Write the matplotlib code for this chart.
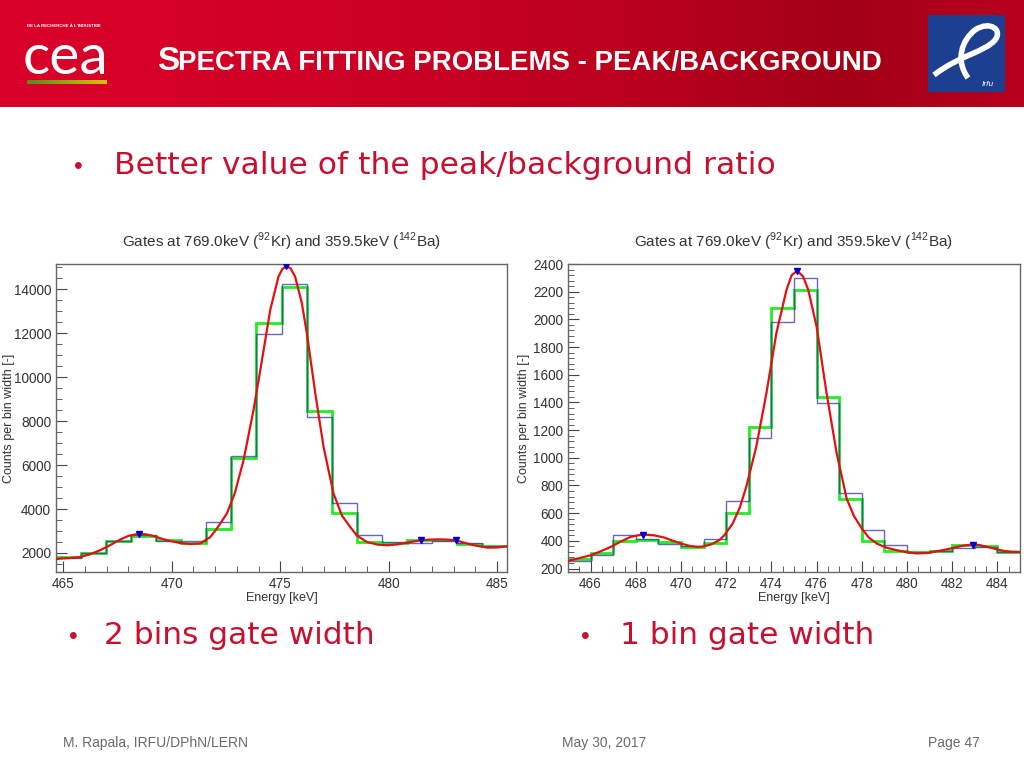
import numpy as np
import matplotlib
matplotlib.use('Agg')
import matplotlib.pyplot as plt
from matplotlib.ticker import MultipleLocator
from matplotlib.patches import Rectangle, PathPatch
from matplotlib.path import Path

plt.rcParams['font.family'] = ['Liberation Sans', 'DejaVu Sans']
plt.rcParams['mathtext.fontset'] = 'custom'
plt.rcParams['mathtext.rm'] = 'Liberation Sans'

# ---- data: 2 bins gate (left) ----
left_lo, left_width, left_nbins = 464.66, 1.1556, 18
left_green = [1800, 1990, 2530, 2780, 2570, 2450, 3100, 6330, 12480, 14110,
              8450, 3820, 2500, 2450, 2580, 2600, 2420, 2300]
left_blue = [1750, 1980, 2530, 2800, 2560, 2560, 3420, 6420, 11950, 14230,
             8200, 4280, 2830, 2500, 2470, 2560, 2460, 2300]
left_fit_x = [464.66, 464.85, 465.3, 465.77, 466.2, 466.69, 467.2, 467.62, 468.0, 468.46,
              468.8, 469.15, 469.5, 469.92, 470.4, 470.85, 471.31, 471.77, 472.08, 472.54,
              472.9, 473.31, 473.77, 474.16, 474.54, 474.92, 475.1, 475.28, 475.48, 475.69,
              476.0, 476.23, 476.62, 477.0, 477.46, 477.85, 478.23, 478.54, 479.0, 479.5,
              479.92, 480.4, 480.85, 481.5, 481.92, 482.3, 482.69, 483.1, 483.46, 484.0,
              484.54, 485.0, 485.46]
left_fit_y = [1720, 1745, 1770, 1818, 1930, 2123, 2380, 2610, 2780, 2870,
              2850, 2775, 2660, 2547, 2450, 2410, 2430, 2720, 3111, 3795,
              4700, 6222, 8500, 10778, 13055, 14572, 14920, 15059, 14950, 14572,
              13360, 11993, 9261, 6828, 4706, 3700, 3184, 2790, 2501, 2380,
              2351, 2390, 2474, 2580, 2610, 2620, 2610, 2580, 2474, 2340,
              2246, 2250, 2305]
left_marks_x = [468.5, 475.25, 481.5, 483.1]
left_marks_y = [2850, 15050, 2600, 2590]

# ---- data: 1 bin gate (right) ----
right_lo, right_width, right_nbins = 465.0, 1.0, 20
right_green = [270, 315, 398, 405, 393, 352, 385, 600, 1225, 2080,
               2210, 1440, 700, 400, 325, 320, 330, 368, 360, 318]
right_blue = [258, 300, 440, 415, 380, 360, 412, 688, 1140, 1980,
              2300, 1395, 748, 478, 372, 318, 325, 345, 355, 318]
right_fit_x = [465.0, 465.5, 466.0, 466.45, 466.89, 467.3, 467.78, 468.3, 468.8, 469.26,
               469.6, 470.0, 470.37, 470.74, 471.0, 471.33, 471.7, 471.92, 472.29, 472.6,
               472.89, 473.33, 473.78, 474.22, 474.67, 474.9, 475.14, 475.4, 475.63, 476.0,
               476.44, 476.89, 477.33, 477.65, 478.0, 478.3, 478.67, 479.1, 479.56, 480.0,
               480.44, 480.9, 481.33, 481.8, 482.22, 482.55, 482.89, 483.2, 483.56, 484.0,
               484.29, 484.6, 485.0]
right_fit_y = [255, 275, 296, 325, 356, 392, 429, 446, 440, 424,
               403, 381, 364, 356, 360, 374, 405, 441, 526, 640,
               791, 1080, 1467, 1901, 2214, 2320, 2351, 2310, 2214, 1948,
               1467, 1032, 705, 580, 490, 425, 380, 350, 332, 318,
               309, 312, 325, 340, 356, 367, 374, 370, 356, 338,
               327, 322, 320]
right_marks_x = [468.3, 475.15, 482.9]
right_marks_y = [442, 2348, 372]

title_txt = r'Gates at 769.0keV ($^{92}$Kr) and 359.5keV ($^{142}$Ba)'

fig = plt.figure(figsize=(10.24, 7.68), dpi=100)

# background axes in pixel coordinates
bg = fig.add_axes([0, 0, 1, 1])
bg.set_xlim(0, 1024)
bg.set_ylim(768, 0)
bg.axis('off')

# header gradient
stops_x = [0, 300, 600, 850, 1024]
stops_c = [(0.85, 0.0, 0.16), (0.82, 0.0, 0.15), (0.74, 0.0, 0.12), (0.64, 0.0, 0.09), (0.72, 0.0, 0.12)]
xs = np.arange(1024)
grad = np.zeros((1, 1024, 3))
for k in range(3):
    grad[0, :, k] = np.interp(xs, stops_x, [c[k] for c in stops_c])
bg.imshow(grad, extent=[0, 1024, 107, 0], aspect='auto', zorder=0)

# cea logo
bg.text(27, 26, "DE LA RECHERCHE À L'INDUSTRIE", color='white', fontsize=3.2,
        va='center', ha='left', fontweight='bold')
bg.text(23, 59, 'cea', color='white', fontsize=41, va='center', ha='left',
        family=['Lato', 'DejaVu Sans'])
bar = np.zeros((1, 80, 3))
for k, (a, b) in enumerate([(0.35, 0.85), (0.55, 0.75), (0.1, 0.05)]):
    bar[0, :, k] = np.linspace(a, b, 80)
bg.imshow(bar, extent=[27, 107, 84, 80], aspect='auto', zorder=1)

# title in small caps
bg.text(157, 70, 'S', color='white', fontsize=24, fontweight='bold', va='baseline', ha='left')
bg.text(178, 70, 'PECTRA FITTING PROBLEMS - PEAK/BACKGROUND', color='white', fontsize=19.9,
        fontweight='bold', va='baseline', ha='left')

# irfu logo
bg.add_patch(Rectangle((928, 15), 77, 77, facecolor='#1d3f8f', edgecolor='none', zorder=1))
swoosh = Path([(934, 75), (960, 55), (985, 52), (995, 40), (1003, 30), (990, 20), (975, 30),
               (962, 40), (955, 60), (968, 78)],
              [Path.MOVETO, Path.CURVE4, Path.CURVE4, Path.CURVE4, Path.CURVE4, Path.CURVE4,
               Path.CURVE4, Path.CURVE4, Path.CURVE4, Path.CURVE4])
bg.add_patch(PathPatch(swoosh, facecolor='none', edgecolor='white', lw=4, zorder=2))
bg.text(988, 85, 'Irfu', color='white', fontsize=6, style='italic', ha='center', va='center')

red = '#c8102e'
bg.text(78, 167, '•', color=red, fontsize=18, ha='center', va='center')
bg.text(114, 166, 'Better value of the peak/background ratio', color=red, fontsize=22.6,
        family=['DejaVu Sans'], ha='left', va='center')
bg.text(73, 637, '•', color=red, fontsize=18, ha='center', va='center')
bg.text(104, 636, '2 bins gate width', color=red, fontsize=22.5,
        family=['DejaVu Sans'], ha='left', va='center')
bg.text(585, 637, '•', color=red, fontsize=18, ha='center', va='center')
bg.text(620, 636, '1 bin gate width', color=red, fontsize=22.5,
        family=['DejaVu Sans'], ha='left', va='center')

grey = '#6a6a6a'
bg.text(63, 743, 'M. Rapala, IRFU/DPhN/LERN', color=grey, fontsize=10, ha='left', va='center')
bg.text(562, 743, 'May 30, 2017', color=grey, fontsize=10, ha='left', va='center')
bg.text(980, 743, 'Page 47', color=grey, fontsize=10, ha='right', va='center')


def draw_panel(rect, lo, width, nb, green, blue, fx, fy, mx, my, xlim, ylim,
               xmaj, xmin, ymaj, ymin, ylab_pad):
    ax = fig.add_axes(rect)
    edges = lo + width * np.arange(nb + 1)
    ax.stairs(green, edges, color='#22ee22', lw=2.0, baseline=None, zorder=2)
    ax.stairs(blue, edges, color='#3535a0', lw=1.0, alpha=0.75, baseline=None, zorder=3)
    ax.plot(fx, fy, color='#e41010', lw=1.6, zorder=4)
    ax.plot(mx, my, 'v', color='#0000cc', ms=4, zorder=5)
    ax.set_xlim(*xlim)
    ax.set_ylim(*ylim)
    ax.xaxis.set_major_locator(MultipleLocator(xmaj))
    ax.xaxis.set_minor_locator(MultipleLocator(xmin))
    ax.yaxis.set_major_locator(MultipleLocator(ymaj))
    ax.yaxis.set_minor_locator(MultipleLocator(ymin))
    ax.tick_params(which='both', direction='in', colors='#444444', labelcolor='#333333',
                   labelsize=9.8)
    ax.tick_params(which='major', length=8)
    ax.tick_params(which='minor', length=4)
    for s in ax.spines.values():
        s.set_color('#666666')
        s.set_linewidth(1.0)
    ax.set_xlabel('Energy [keV]', fontsize=9, color='#333333', labelpad=1)
    ax.set_ylabel('Counts per bin width [-]', fontsize=9, color='#333333', labelpad=ylab_pad)
    ax.set_title(title_txt, fontsize=11, color='#333333', pad=12)
    return ax


draw_panel([56 / 1024, 196 / 768, 451 / 1024, 308 / 768], left_lo, left_width, left_nbins,
           left_green, left_blue, left_fit_x, left_fit_y, left_marks_x, left_marks_y,
           (left_lo, left_lo + left_width * left_nbins), (1135, 15150),
           5, 1, 2000, 500, -1.2)
draw_panel([568 / 1024, 196 / 768, 452 / 1024, 308 / 768], right_lo, right_width, right_nbins,
           right_green, right_blue, right_fit_x, right_fit_y, right_marks_x, right_marks_y,
           (465, 485), (175, 2400),
           2, 0.5, 200, 40, 2)

fig.savefig('out.png', dpi=100)
